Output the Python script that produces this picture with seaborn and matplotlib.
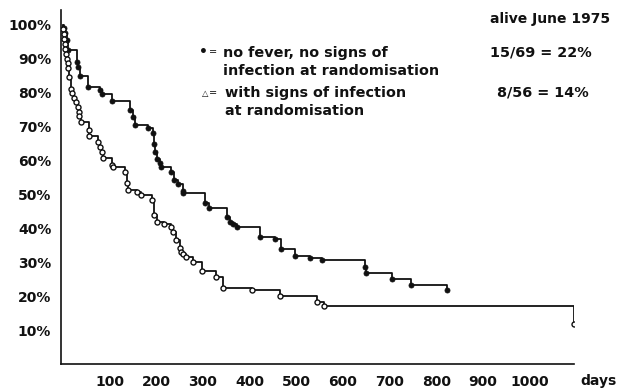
import numpy as np
import pandas as pd
import matplotlib
matplotlib.use("Agg")
import matplotlib.pyplot as plt
import seaborn as sns

# ---- data ----
days_no_fever = [0, 2, 4, 8, 10, 30, 33, 36, 54, 80, 84, 106, 144, 150, 154, 182, 193, 195,
                 197, 201, 208, 210, 232, 238, 247, 257, 258, 305, 312, 352, 358, 365, 373,
                 423, 455, 467, 498, 530, 556, 648, 650, 706, 745, 822]
surv_no_fever = [100, 99, 97.5, 95.5, 92.6, 89, 87.5, 85, 81.8, 80.8, 79.7, 77.5, 75, 73, 70.5,
                 69.7, 68, 65, 62.6, 60.6, 59.4, 58.2, 56.5, 54.4, 53, 51, 50.3, 47.6, 46, 43.5,
                 42, 41.2, 40.3, 37.6, 37, 33.8, 31.8, 31.2, 30.6, 28.5, 26.8, 25, 23.2, 21.8]

days_infection = [0, 1, 2, 3, 4, 5, 6, 9, 10, 12, 13, 17, 20, 23, 28, 32, 34, 35, 38, 55, 57,
                  76, 80, 84, 87, 105, 108, 133, 137, 140, 159, 168, 190, 195, 201, 216, 231,
                  236, 242, 251, 253, 258, 263, 278, 298, 328, 343, 405, 465, 544, 559, 1094]
surv_infection = [100, 98.8, 97.4, 96, 94.5, 92.9, 91.5, 90, 88.8, 87.4, 84.7, 81.2, 80, 78.5,
                  77.4, 75.9, 74.4, 73.2, 71.5, 69, 67.4, 65.6, 64, 62.6, 60.9, 58.8, 58.2, 56.5,
                  53.5, 51.2, 50.6, 50, 48.5, 44.1, 42, 41.2, 40.3, 38.8, 36.5, 34.1, 32.9, 32.4,
                  31.5, 30, 27.4, 25.6, 22.4, 21.8, 20, 18.2, 17, 11.8]

groups = ["no fever", "infection"]
y_ticks = [10, 20, 30, 40, 50, 60, 70, 80, 90, 100]
y_labels = [f"{v}%" for v in y_ticks]
x_ticks = [100, 200, 300, 400, 500, 600, 700, 800, 900, 1000]
x_labels = [str(v) for v in x_ticks]

legend_lines_1 = ["no fever, no signs of", "infection at randomisation"]
legend_lines_2 = ["with signs of infection", "at randomisation"]
alive_title = "alive June 1975"
alive_1 = "15/69 = 22%"
alive_2 = "8/56 = 14%"

df = pd.concat([
    pd.DataFrame({"day": days_no_fever, "surv": surv_no_fever, "group": groups[0]}),
    pd.DataFrame({"day": days_infection, "surv": surv_infection, "group": groups[1]}),
], ignore_index=True)

# ---- figure ----
sns.set_style("white")
plt.rcParams["font.family"] = ["DejaVu Sans"]

W, H = 620, 391
fig = plt.figure(figsize=(W / 100, H / 100), dpi=100)
x0, x1 = 61, 574
y_zero, y_top = 364, 10
ax = fig.add_axes([x0 / W, (H - y_zero) / H, (x1 - x0) / W, (y_zero - y_top) / H])

ink = "#111111"
sns.lineplot(data=df, x="day", y="surv", hue="group", palette={g: ink for g in groups},
             estimator=None, sort=False, drawstyle="steps-post", linewidth=1.3,
             legend=False, ax=ax)

pts = df[df["day"] > 0]
sns.scatterplot(data=pts[pts["group"] == groups[0]], x="day", y="surv", color=ink,
                s=13, marker="o", edgecolor=ink, linewidth=0.6, legend=False, ax=ax, zorder=3)
sns.scatterplot(data=pts[pts["group"] == groups[1]], x="day", y="surv", color="white",
                s=13, marker="o", edgecolor=ink, linewidth=1.0, legend=False, ax=ax, zorder=3)

ax.set_xlim(-4, 1095)
ax.set_ylim(0, (y_zero - y_top) / 3.39)
ax.set_xticks(x_ticks)
ax.set_xticklabels(x_labels)
ax.set_yticks(y_ticks)
ax.set_yticklabels(y_labels)
ax.set_xlabel("")
ax.set_ylabel("")
for s in ["top", "right"]:
    ax.spines[s].set_visible(False)
for s in ["left", "bottom"]:
    ax.spines[s].set_color(ink)
    ax.spines[s].set_linewidth(1.2)
ax.tick_params(axis="x", direction="in", length=3, width=1, pad=8, colors=ink,
               labelsize=10)
ax.tick_params(axis="y", direction="out", length=3, width=1, pad=4, colors=ink,
               labelsize=10)
for lab in ax.get_xticklabels() + ax.get_yticklabels():
    lab.set_fontweight("bold")

# "days" label after the last tick
fig.text(580 / W, 1 - 385 / H, "days", ha="left", va="baseline", fontsize=10,
         fontweight="bold", color=ink)

def ftext(x, y, s, **kw):
    fig.text(x / W, 1 - y / H, s, color=ink, **kw)

# legend block
ftext(203, 56, "\u2022", fontsize=10, fontweight="bold", ha="center", va="baseline")
ftext(213, 55, "=", fontsize=7, ha="center", va="baseline")
ftext(223, 57, legend_lines_1[0], fontsize=10.4, fontweight="bold", ha="left", va="baseline")
ftext(223, 75, legend_lines_1[1], fontsize=10.4, fontweight="bold", ha="left", va="baseline")
ftext(205, 96, "\u25b3", fontsize=6, ha="center", va="baseline")
ftext(213, 96, "=", fontsize=7, ha="center", va="baseline")
ftext(225, 97, legend_lines_2[0], fontsize=10.4, fontweight="bold", ha="left", va="baseline")
ftext(225, 115, legend_lines_2[1], fontsize=10.4, fontweight="bold", ha="left", va="baseline")

ftext(490, 23, alive_title, fontsize=10, fontweight="bold", ha="left", va="baseline")
ftext(490, 56, alive_1, fontsize=10.4, fontweight="bold", ha="left", va="baseline")
ftext(497, 97, alive_2, fontsize=10.4, fontweight="bold", ha="left", va="baseline")

fig.savefig("out.png", dpi=100)
